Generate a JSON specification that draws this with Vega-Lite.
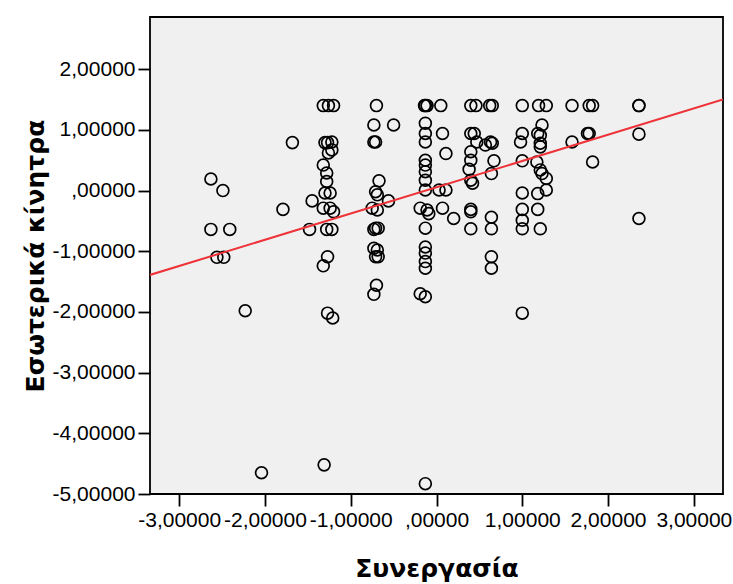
{
  "$schema": "https://vega.github.io/schema/vega-lite/v6.json",
  "width": 573,
  "height": 477,
  "autosize": "none",
  "padding": {"left": 150, "top": 17, "right": 10, "bottom": 90},
  "background": "white",
  "config": {
    "view": {"fill": "#f0f0f0", "stroke": "black", "strokeWidth": 1.8},
    "font": "Liberation Sans",
    "axis": {"grid": false, "domain": false, "tickColor": "black", "tickWidth": 1.8, "tickSize": 12, "labelColor": "black", "labelFontSize": 21, "labelFont": "Liberation Sans", "titleFont": "DejaVu Sans", "titleFontWeight": "bold", "titleFontSize": 25, "titleColor": "black", "labelPadding": 3}
  },
  "datasets": {
    "points": [
      {"x": -2.63, "y": 0.19}, {"x": -2.49, "y": 0.0}, {"x": -2.63, "y": -0.64}, {"x": -2.41, "y": -0.64},
      {"x": -2.56, "y": -1.1}, {"x": -2.48, "y": -1.1}, {"x": -2.23, "y": -1.98}, {"x": -2.04, "y": -4.65},
      {"x": -1.68, "y": 0.79}, {"x": -1.79, "y": -0.31}, {"x": -1.45, "y": -0.17}, {"x": -1.48, "y": -0.64},
      {"x": -1.32, "y": 1.4}, {"x": -1.26, "y": 1.4}, {"x": -1.2, "y": 1.4},
      {"x": -1.3, "y": 0.79}, {"x": -1.27, "y": 0.79}, {"x": -1.22, "y": 0.8},
      {"x": -1.22, "y": 0.67}, {"x": -1.26, "y": 0.62}, {"x": -1.32, "y": 0.42}, {"x": -1.28, "y": 0.29},
      {"x": -1.28, "y": 0.15}, {"x": -1.3, "y": -0.04}, {"x": -1.24, "y": -0.04},
      {"x": -1.32, "y": -0.29}, {"x": -1.24, "y": -0.29}, {"x": -1.2, "y": -0.35},
      {"x": -1.28, "y": -0.64}, {"x": -1.22, "y": -0.64}, {"x": -1.27, "y": -1.09}, {"x": -1.32, "y": -1.24},
      {"x": -1.27, "y": -2.02}, {"x": -1.21, "y": -2.1}, {"x": -1.31, "y": -4.52},
      {"x": -0.7, "y": 1.4}, {"x": -0.73, "y": 1.08}, {"x": -0.5, "y": 1.08},
      {"x": -0.73, "y": 0.8}, {"x": -0.71, "y": 0.8}, {"x": -0.67, "y": 0.16},
      {"x": -0.71, "y": -0.02}, {"x": -0.69, "y": -0.07}, {"x": -0.56, "y": -0.17},
      {"x": -0.75, "y": -0.29}, {"x": -0.69, "y": -0.32},
      {"x": -0.71, "y": -0.62}, {"x": -0.68, "y": -0.62}, {"x": -0.73, "y": -0.64},
      {"x": -0.73, "y": -0.95}, {"x": -0.69, "y": -0.98}, {"x": -0.71, "y": -1.09}, {"x": -0.68, "y": -1.09},
      {"x": -0.7, "y": -1.56}, {"x": -0.73, "y": -1.71},
      {"x": -0.13, "y": 1.4}, {"x": -0.11, "y": 1.4}, {"x": -0.14, "y": 1.4},
      {"x": -0.13, "y": 1.11}, {"x": -0.13, "y": 0.94}, {"x": -0.13, "y": 0.8}, {"x": -0.13, "y": 0.5},
      {"x": -0.13, "y": 0.42}, {"x": -0.13, "y": 0.31}, {"x": -0.13, "y": 0.17}, {"x": -0.13, "y": 0.01},
      {"x": -0.19, "y": -0.29}, {"x": -0.11, "y": -0.32}, {"x": -0.09, "y": -0.38}, {"x": -0.13, "y": -0.62},
      {"x": -0.13, "y": -0.93}, {"x": -0.13, "y": -1.03}, {"x": -0.13, "y": -1.17}, {"x": -0.13, "y": -1.28},
      {"x": -0.19, "y": -1.7}, {"x": -0.13, "y": -1.75}, {"x": -0.13, "y": -4.83},
      {"x": 0.05, "y": 1.4}, {"x": 0.07, "y": 0.94}, {"x": 0.11, "y": 0.61},
      {"x": 0.03, "y": 0.01}, {"x": 0.11, "y": 0.01}, {"x": 0.07, "y": -0.29}, {"x": 0.2, "y": -0.46},
      {"x": 0.4, "y": 1.4}, {"x": 0.46, "y": 1.4}, {"x": 0.4, "y": 0.94}, {"x": 0.44, "y": 0.94},
      {"x": 0.47, "y": 0.8}, {"x": 0.57, "y": 0.75}, {"x": 0.4, "y": 0.64}, {"x": 0.4, "y": 0.5},
      {"x": 0.38, "y": 0.35}, {"x": 0.4, "y": 0.17}, {"x": 0.42, "y": 0.12},
      {"x": 0.4, "y": -0.31}, {"x": 0.4, "y": -0.35}, {"x": 0.4, "y": -0.63},
      {"x": 0.62, "y": 1.4}, {"x": 0.65, "y": 1.4}, {"x": 0.63, "y": 0.8}, {"x": 0.65, "y": 0.78},
      {"x": 0.67, "y": 0.49}, {"x": 0.64, "y": 0.28},
      {"x": 0.64, "y": -0.44}, {"x": 0.64, "y": -0.63}, {"x": 0.64, "y": -1.09}, {"x": 0.64, "y": -1.28},
      {"x": 1.0, "y": 1.4}, {"x": 1.0, "y": 0.94}, {"x": 0.98, "y": 0.8}, {"x": 1.0, "y": 0.49},
      {"x": 1.0, "y": -0.04}, {"x": 1.0, "y": -0.31}, {"x": 1.0, "y": -0.49}, {"x": 1.0, "y": -0.63}, {"x": 1.0, "y": -2.02},
      {"x": 1.19, "y": 1.4}, {"x": 1.28, "y": 1.4}, {"x": 1.23, "y": 1.08}, {"x": 1.18, "y": 0.94},
      {"x": 1.21, "y": 0.91}, {"x": 1.21, "y": 0.78}, {"x": 1.21, "y": 0.72}, {"x": 1.17, "y": 0.47},
      {"x": 1.21, "y": 0.34}, {"x": 1.23, "y": 0.28}, {"x": 1.28, "y": 0.2}, {"x": 1.28, "y": 0.01},
      {"x": 1.18, "y": -0.05}, {"x": 1.18, "y": -0.31}, {"x": 1.21, "y": -0.63},
      {"x": 1.58, "y": 1.4}, {"x": 1.58, "y": 0.8},
      {"x": 1.78, "y": 1.4}, {"x": 1.82, "y": 1.4}, {"x": 1.76, "y": 0.94}, {"x": 1.78, "y": 0.94}, {"x": 1.82, "y": 0.47},
      {"x": 2.36, "y": 1.4}, {"x": 2.36, "y": 1.4}, {"x": 2.36, "y": 0.93}, {"x": 2.36, "y": -0.46}
    ],
    "fit": [
      {"x": -3.34, "y": -1.39},
      {"x": 3.34, "y": 1.5}
    ]
  },
  "layer": [
    {
      "data": {"name": "points"},
      "mark": {"type": "point", "shape": "circle", "filled": false, "stroke": "black", "strokeWidth": 1.7, "size": 140, "opacity": 1},
      "encoding": {
        "x": {
          "field": "x", "type": "quantitative",
          "scale": {"domain": [-3.34, 3.34], "nice": false, "zero": false},
          "axis": {
            "title": "Συνεργασία",
            "values": [-3, -2, -1, 0, 1, 2, 3],
            "labelExpr": "datum.value == 0 ? ',00000' : replace(replace(format(datum.value, '.5f'), '.', ','), '−', '-')",
            "titlePadding": 26
          }
        },
        "y": {
          "field": "y", "type": "quantitative",
          "scale": {"domain": [-5, 2.86], "nice": false, "zero": false},
          "axis": {
            "title": "Εσωτερικά κίνητρα",
            "values": [-5, -4, -3, -2, -1, 0, 1, 2],
            "labelExpr": "datum.value == 0 ? ',00000' : replace(replace(format(datum.value, '.5f'), '.', ','), '−', '-')",
            "titlePadding": 4
          }
        }
      }
    },
    {
      "data": {"name": "fit"},
      "mark": {"type": "line", "color": "#ee3338", "strokeWidth": 2, "clip": true},
      "encoding": {
        "x": {"field": "x", "type": "quantitative"},
        "y": {"field": "y", "type": "quantitative"}
      }
    }
  ]
}
